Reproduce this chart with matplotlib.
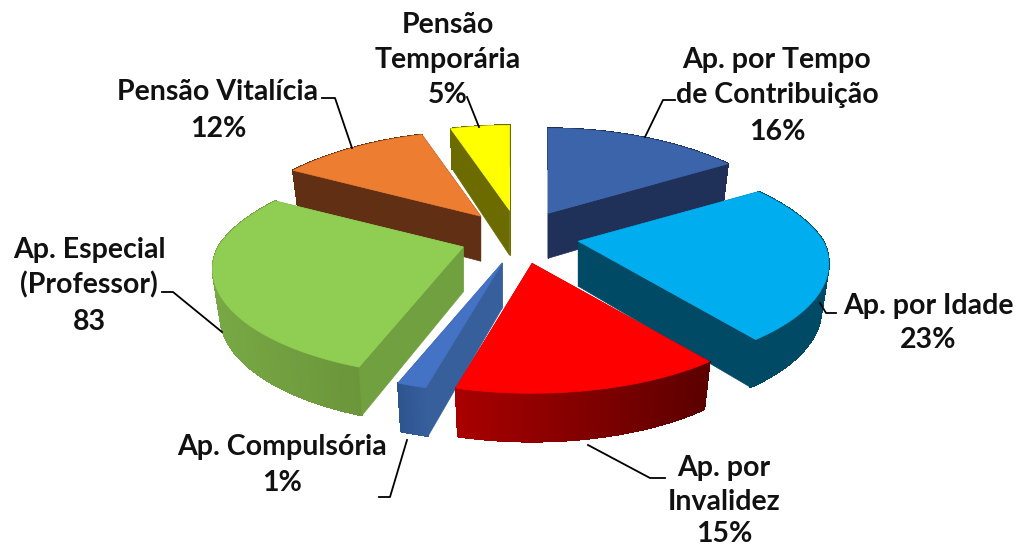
import numpy as np
import matplotlib
matplotlib.use("Agg")
import matplotlib.pyplot as plt
from matplotlib.collections import PolyCollection
from matplotlib.colors import to_rgb

# slices, clockwise from 12 o'clock
names = ["Ap. por Tempo\nde Contribuição", "Ap. por Idade", "Ap. por\nInvalidez", "Ap. Compulsória",
         "Ap. Especial\n(Professor)", "Pensão Vitalícia", "Pensão\nTemporária"]
shares = [16, 23, 15, 1, 28, 12, 5]
shown = ["16%", "23%", "15%", "1%", "83", "12%", "5%"]

top_colors = ["#3c64ab", "#00aeef", "#ff0000", "#4472c4", "#8fce52", "#ed7d31", "#ffff00"]
face_colors = ["#1f3158", "#004a66", "#a00000", "#365f9c", "#70a03f", "#613014", "#6b6b00"]
wall_left = ["#1f3158", "#004a66", "#a80000", "#2f5590", "#78a845", "#613014", "#6b6b00"]
wall_right = ["#1f3158", "#004a66", "#5c0000", "#365f9c", "#6b963a", "#613014", "#6b6b00"]

draw_order = [6, 0, 5, 1, 4, 3, 2]

RADIUS = 250
EXPLODE = 60
CX, CY = 519, 237
K, C = 0.209, 0.411
DEPTH = 45

# label text: x centre, y of each line, leader line
label_pos = {
    0: (777, [60, 95, 132], [(645, 137), (663, 100), (675, 100)]),
    1: (928, [306, 340], [(820, 303), (826, 313), (836, 313)]),
    2: (724, [468, 502, 534], [(588, 445), (650, 478), (665, 478)]),
    3: (282, [447, 483], [(407, 440), (390, 497), (379, 497)]),
    4: (89, [250, 285, 322], [(222, 332), (173, 292), (162, 292)]),
    5: (218, [92, 129], [(352, 148), (335, 98), (322, 98)]),
    6: (448, [25, 60, 95], [(479, 127), (467, 97)]),
}


def project(theta):
    # plane polar to screen offset, nearer things get bigger
    # small angle correction so the rim lands where the reference has it
    theta = theta + np.radians(np.interp(np.degrees(theta), [0, 90, 140, 194.4, 198, 270, 360],
                                         [0, 0, 2.5, 0, 2, 1, 0]))
    c = np.cos(theta)
    p = 1 / (1 + K * c)
    squeeze = 0.98 * (1 - 0.06 * np.maximum(c, 0))
    return RADIUS * np.sin(theta) * p * squeeze, -RADIUS * C * c * p


def drop(theta):
    return DEPTH * (1 - 0.16 * np.cos(theta))


def lerp(a, b, t):
    a, b = np.array(to_rgb(a)), np.array(to_rgb(b))
    return tuple(a + (b - a) * t)


fig = plt.figure(figsize=(10.18, 5.47), dpi=100)
ax = fig.add_axes([0, 0, 1, 1])
ax.set_xlim(0, 1018)
ax.set_ylim(547, 0)
ax.axis("off")

edges = np.cumsum([0] + shares) / sum(shares) * 2 * np.pi

for i in draw_order:
    a0, a1 = edges[i], edges[i + 1]
    mid = (a0 + a1) / 2
    ax0 = CX + EXPLODE * np.sin(mid)
    ay0 = CY + EXPLODE * 0.45 * -np.cos(mid)

    th = np.linspace(a0, a1, 60)
    rx, ry = project(th)
    top = np.column_stack([ax0 + rx, ay0 + ry])
    bot = np.column_stack([ax0 + rx * 0.97, ay0 + ry * 0.97 + drop(th)])
    apex = np.array([ax0, ay0])
    apex_b = np.array([ax0, ay0 + DEPTH])

    # walls, far ones first
    walls = []
    for k in (0, -1):
        poly = np.array([apex, top[k], bot[k], apex_b])
        walls.append((poly[:, 1].mean(), "flat", poly))
    walls.append((top[:, 1].mean() + 25, "rim", None))
    walls.sort(key=lambda w: w[0])

    for _, kind, poly in walls:
        if kind == "flat":
            ax.fill(poly[:, 0], poly[:, 1], color=face_colors[i], lw=0.5, zorder=2)
        else:
            outer = np.vstack([top, bot[::-1]])
            ax.fill(outer[:, 0], outer[:, 1], color=lerp(wall_left[i], wall_right[i], 0.5), lw=0.5, zorder=2)
            quads = [np.array([top[j], top[j + 1], bot[j + 1], bot[j]]) for j in range(len(th) - 1)]
            xs = np.array([q[:, 0].mean() for q in quads])
            ts = (xs - xs.min()) / max(xs.max() - xs.min(), 1)
            cols = [lerp(wall_left[i], wall_right[i], t) for t in ts]
            ax.add_collection(PolyCollection(quads, facecolors=cols, edgecolors=cols, linewidths=0.8,
                                             antialiaseds=False, zorder=2))

    outline = np.vstack([apex, top])
    ax.fill(outline[:, 0], outline[:, 1], color=top_colors[i], lw=0.5, zorder=2)

plt.rcParams["font.family"] = ["Lato", "DejaVu Sans"]
for i, (x, ys, line) in label_pos.items():
    rows = names[i].split("\n") + [shown[i]]
    for row, y in zip(rows, ys):
        ax.text(x, y, row, ha="center", va="center", fontsize=20.5, fontweight="bold", color="#111111", zorder=4)
    pts = np.array(line)
    ax.plot(pts[:, 0], pts[:, 1], color="black", lw=1.3, zorder=3)

fig.savefig("out.png", dpi=100, facecolor="white")
